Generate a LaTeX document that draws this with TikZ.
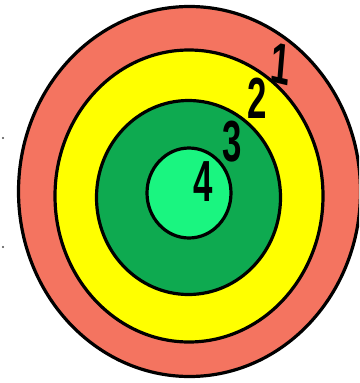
\documentclass[tikz,border=0pt]{standalone}
\usepackage{fontspec}
\setmainfont{Liberation Sans}
\definecolor{ringA}{RGB}{244,116,96}
\definecolor{ringB}{RGB}{255,255,0}
\definecolor{ringC}{RGB}{14,170,80}
\definecolor{ringD}{RGB}{26,245,128}
\tikzset{
  ring/.style={draw=black, line width=3.2pt},
  digit/.style={font=\fontsize{58}{58}\selectfont\bfseries, inner sep=0pt, xscale=0.6},
  speck/.style={fill=black!70, draw=none}
}
\begin{document}
\begin{tikzpicture}[x=1pt,y=-1pt]
\useasboundingbox (0,0) rectangle (359,383);
\clip (0,0) rectangle (359,383);
\fill[white] (0,0) rectangle (359,383);
\path[ring, fill=ringA] (189.5,191.5) ellipse [x radius=171, y radius=185];
\path[ring, fill=ringB] (189,196) ellipse [x radius=134, y radius=146];
\path[ring, fill=ringC] (188.5,197.5) ellipse [x radius=92, y radius=97];
\path[ring, fill=ringD] (189,193) ellipse [x radius=42, y radius=45];
\node[digit, rotate=-8] (n1) at (281,64) {1};
\node[digit] (n2) at (257,98) {2};
\node[digit] (n3) at (232,142) {3};
\node[digit] (n4) at (203,182) {4};
\fill[speck] (3,138) circle (1.2);
\fill[speck] (3,247) circle (1.2);
\end{tikzpicture}
\end{document}
